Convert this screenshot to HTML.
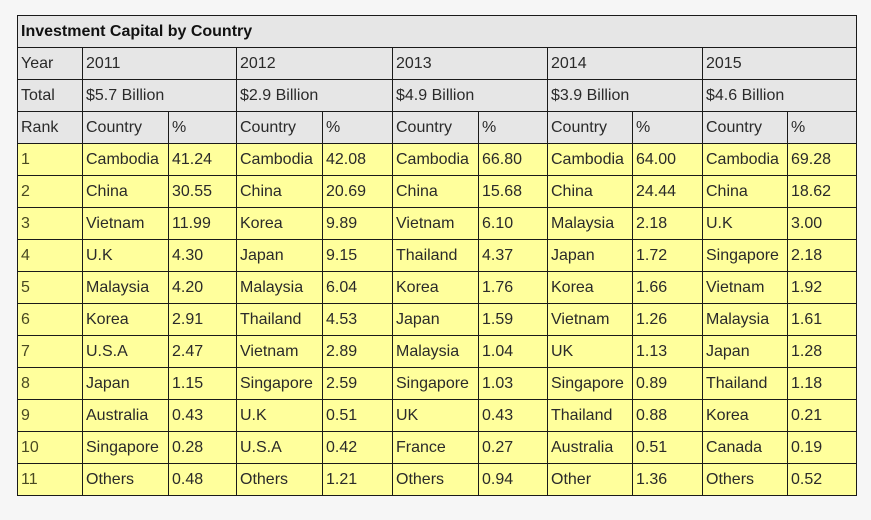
<!DOCTYPE html>
<html>
<head>
<meta charset="utf-8">
<style>
  html, body { margin:0; padding:0; }
  body { width:871px; height:520px; background:#f6f6f6; position:relative; overflow:hidden;
         font-family:"Liberation Sans", Arial, sans-serif; }
  table { position:absolute; left:17px; top:15px; border-collapse:collapse; table-layout:fixed; width:839px; }
  td { border:1px solid #1a1a1a; padding:0 0 0 3px; height:31px; font-size:16px; color:#2a2a2a;
       white-space:nowrap; overflow:hidden; vertical-align:middle; line-height:18px; }
  tr.g td { background:#e6e6e6; }
  tr.y td { background:#ffff9c; }
  tr.y td.r { color:#4a4a22; }
  td.t { font-weight:bold; color:#111; }
</style>
</head>
<body>
<table>
  <colgroup>
    <col style="width:65px"><col style="width:86px"><col style="width:68px">
    <col style="width:86px"><col style="width:70px">
    <col style="width:86px"><col style="width:69px">
    <col style="width:85px"><col style="width:70px">
    <col style="width:85px"><col style="width:69px">
  </colgroup>
  <tr class="g"><td class="t" colspan="11">Investment Capital by Country</td></tr>
  <tr class="g"><td>Year</td><td colspan="2">2011</td><td colspan="2">2012</td><td colspan="2">2013</td><td colspan="2">2014</td><td colspan="2">2015</td></tr>
  <tr class="g"><td>Total</td><td colspan="2">$5.7 Billion</td><td colspan="2">$2.9 Billion</td><td colspan="2">$4.9 Billion</td><td colspan="2">$3.9 Billion</td><td colspan="2">$4.6 Billion</td></tr>
  <tr class="g"><td>Rank</td><td>Country</td><td>%</td><td>Country</td><td>%</td><td>Country</td><td>%</td><td>Country</td><td>%</td><td>Country</td><td>%</td></tr>
  <tr class="y"><td class="r">1</td><td>Cambodia</td><td>41.24</td><td>Cambodia</td><td>42.08</td><td>Cambodia</td><td>66.80</td><td>Cambodia</td><td>64.00</td><td>Cambodia</td><td>69.28</td></tr>
  <tr class="y"><td class="r">2</td><td>China</td><td>30.55</td><td>China</td><td>20.69</td><td>China</td><td>15.68</td><td>China</td><td>24.44</td><td>China</td><td>18.62</td></tr>
  <tr class="y"><td class="r">3</td><td>Vietnam</td><td>11.99</td><td>Korea</td><td>9.89</td><td>Vietnam</td><td>6.10</td><td>Malaysia</td><td>2.18</td><td>U.K</td><td>3.00</td></tr>
  <tr class="y"><td class="r">4</td><td>U.K</td><td>4.30</td><td>Japan</td><td>9.15</td><td>Thailand</td><td>4.37</td><td>Japan</td><td>1.72</td><td>Singapore</td><td>2.18</td></tr>
  <tr class="y"><td class="r">5</td><td>Malaysia</td><td>4.20</td><td>Malaysia</td><td>6.04</td><td>Korea</td><td>1.76</td><td>Korea</td><td>1.66</td><td>Vietnam</td><td>1.92</td></tr>
  <tr class="y"><td class="r">6</td><td>Korea</td><td>2.91</td><td>Thailand</td><td>4.53</td><td>Japan</td><td>1.59</td><td>Vietnam</td><td>1.26</td><td>Malaysia</td><td>1.61</td></tr>
  <tr class="y"><td class="r">7</td><td>U.S.A</td><td>2.47</td><td>Vietnam</td><td>2.89</td><td>Malaysia</td><td>1.04</td><td>UK</td><td>1.13</td><td>Japan</td><td>1.28</td></tr>
  <tr class="y"><td class="r">8</td><td>Japan</td><td>1.15</td><td>Singapore</td><td>2.59</td><td>Singapore</td><td>1.03</td><td>Singapore</td><td>0.89</td><td>Thailand</td><td>1.18</td></tr>
  <tr class="y"><td class="r">9</td><td>Australia</td><td>0.43</td><td>U.K</td><td>0.51</td><td>UK</td><td>0.43</td><td>Thailand</td><td>0.88</td><td>Korea</td><td>0.21</td></tr>
  <tr class="y"><td class="r">10</td><td>Singapore</td><td>0.28</td><td>U.S.A</td><td>0.42</td><td>France</td><td>0.27</td><td>Australia</td><td>0.51</td><td>Canada</td><td>0.19</td></tr>
  <tr class="y"><td class="r">11</td><td>Others</td><td>0.48</td><td>Others</td><td>1.21</td><td>Others</td><td>0.94</td><td>Other</td><td>1.36</td><td>Others</td><td>0.52</td></tr>
</table>
</body>
</html>
